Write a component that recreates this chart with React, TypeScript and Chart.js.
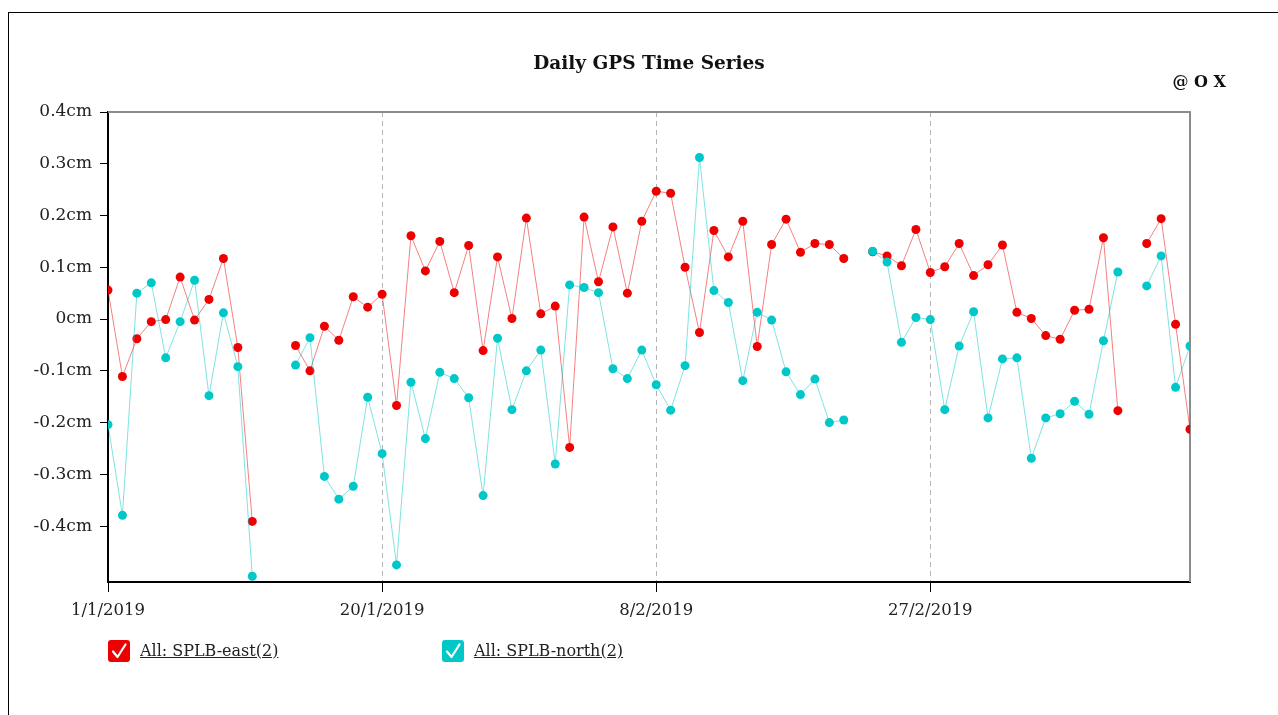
import React, { useEffect, useRef } from 'react';
import { Chart, registerables } from 'chart.js';

Chart.register(...registerables);

const TITLE = 'Daily GPS Time Series';
const CORNER_TEXT = '@ O X';
const FONT = "'DejaVu Serif', serif";

// Days since 1/1/2019 (categories)
const dayIndex: number[] = Array.from({ length: 76 }, (_, i) => i);

const eastLabel = 'All: SPLB-east(2)';
const northLabel = 'All: SPLB-north(2)';

// SPLB-east (cm), null = no observation
const eastValues: (number | null)[] = [
  0.056, -0.111, -0.038, -0.005, -0.001, 0.081, -0.002, 0.038, 0.117, -0.055,
  -0.391, null, null, -0.051, -0.100, -0.014, -0.041, 0.043, 0.023, 0.048,
  -0.167, 0.161, 0.093, 0.150, 0.051, 0.142, -0.061, 0.120, 0.001, 0.195,
  0.010, 0.025, -0.248, 0.197, 0.072, 0.178, 0.050, 0.189, 0.247, 0.243,
  0.100, -0.026, 0.171, 0.120, 0.189, -0.053, 0.144, 0.193, 0.129, 0.146,
  0.144, 0.117, null, 0.130, 0.122, 0.103, 0.173, 0.090, 0.101, 0.146,
  0.084, 0.105, 0.143, 0.013, 0.001, -0.032, -0.039, 0.017, 0.019, 0.157,
  -0.177, null, 0.146, 0.194, -0.010, -0.213,
];

// SPLB-north (cm)
const northValues: (number | null)[] = [
  -0.204, -0.379, 0.050, 0.070, -0.075, -0.005, 0.075, -0.148, 0.012, -0.092,
  -0.497, null, null, -0.089, -0.036, -0.304, -0.348, -0.323, -0.151, -0.260,
  -0.475, -0.122, -0.231, -0.103, -0.115, -0.152, -0.341, -0.037, -0.175, -0.100,
  -0.060, -0.280, 0.066, 0.061, 0.051, -0.096, -0.115, -0.060, -0.127, -0.176,
  -0.090, 0.312, 0.055, 0.032, -0.119, 0.013, -0.002, -0.102, -0.146, -0.116,
  -0.200, -0.195, null, 0.131, 0.110, -0.045, 0.003, -0.001, -0.175, -0.052,
  0.014, -0.191, -0.077, -0.075, -0.269, -0.191, -0.183, -0.159, -0.184, -0.042,
  0.091, null, 0.064, 0.122, -0.132, -0.052,
];

const xTickDays = [0, 19, 38, 57];
const xTickLabels = ['1/1/2019', '20/1/2019', '8/2/2019', '27/2/2019'];
const yTickValues = [-0.4, -0.3, -0.2, -0.1, 0, 0.1, 0.2, 0.3, 0.4];
const yTickLabels = ['-0.4cm', '-0.3cm', '-0.2cm', '-0.1cm', '0cm', '0.1cm', '0.2cm', '0.3cm', '0.4cm'];

const RED = '#ee0000';
const RED_LINE = 'rgba(238,0,0,0.5)';
const CYAN = '#00c8c8';
const CYAN_LINE = 'rgba(0,200,200,0.5)';

const framePlugin = {
  id: 'frameAndTitle',
  beforeDatasetsDraw(chart: any) {
    const { ctx, chartArea: a } = chart;
    ctx.save();
    ctx.strokeStyle = '#8c8c8c';
    ctx.lineWidth = 2;
    ctx.beginPath();
    ctx.moveTo(a.left, a.top);
    ctx.lineTo(a.right, a.top);
    ctx.lineTo(a.right, a.bottom);
    ctx.stroke();
    ctx.restore();
  },
  afterDraw(chart: any) {
    const { ctx, chartArea: a } = chart;
    ctx.save();
    ctx.fillStyle = '#111';
    ctx.textBaseline = 'middle';
    ctx.textAlign = 'center';
    ctx.font = `bold 18.5px ${FONT}`;
    ctx.fillText(TITLE, (a.left + a.right) / 2, 64);
    ctx.textAlign = 'right';
    ctx.font = `bold 16px ${FONT}`;
    ctx.fillText(CORNER_TEXT, 1226, 83);
    ctx.restore();
  },
};

export default function App() {
  const canvasRef = useRef<HTMLCanvasElement | null>(null);

  useEffect(() => {
    if (!canvasRef.current) return;
    const chart = new Chart(canvasRef.current, {
      type: 'line',
      data: {
        datasets: [
          {
            label: northLabel,
            data: dayIndex.map((d, i) => ({ x: d, y: northValues[i] })),
            borderColor: CYAN_LINE,
            backgroundColor: CYAN,
            pointBackgroundColor: CYAN,
            pointBorderWidth: 0,
            pointRadius: 4.5,
            borderWidth: 1,
            tension: 0,
            spanGaps: false,
          },
          {
            label: eastLabel,
            data: dayIndex.map((d, i) => ({ x: d, y: eastValues[i] })),
            borderColor: RED_LINE,
            backgroundColor: RED,
            pointBackgroundColor: RED,
            pointBorderWidth: 0,
            pointRadius: 4.5,
            borderWidth: 1,
            tension: 0,
            spanGaps: false,
          },
        ],
      },
      options: {
        responsive: false,
        animation: false,
        devicePixelRatio: 1,
        layout: { padding: { top: 112, right: 88, left: 0, bottom: 0 } },
        plugins: {
          legend: { display: false },
          title: { display: false },
          tooltip: { enabled: false },
        },
        scales: {
          x: {
            type: 'linear',
            min: 0,
            max: 75,
            afterFit: (s: any) => { s.height = 133; },
            afterBuildTicks: (s: any) => { s.ticks = xTickDays.map((v) => ({ value: v })); },
            ticks: {
              autoSkip: false,
              maxRotation: 0,
              padding: 9,
              color: '#222',
              font: { family: FONT, size: 16.5 },
              callback: (_v: any, i: number) => xTickLabels[i],
            },
            grid: {
              display: true,
              drawOnChartArea: true,
              drawTicks: true,
              tickLength: 10,
              color: '#b4b4b4',
              lineWidth: 1,
              tickColor: '#000',
              tickWidth: 1,
              tickBorderDash: [],
            },
            border: { display: true, color: '#000', width: 2, dash: [5, 4] },
          },
          y: {
            type: 'linear',
            min: -0.508,
            max: 0.4,
            afterFit: (s: any) => { s.width = 108; },
            afterBuildTicks: (s: any) => { s.ticks = yTickValues.map((v) => ({ value: v })); },
            ticks: {
              padding: 8,
              color: '#222',
              font: { family: FONT, size: 17 },
              callback: (_v: any, i: number) => yTickLabels[i],
            },
            grid: {
              display: true,
              drawOnChartArea: false,
              drawTicks: true,
              tickLength: 8,
              color: '#000',
              tickColor: '#000',
              tickWidth: 1,
            },
            border: { display: true, color: '#000', width: 2 },
          },
        },
      },
      plugins: [framePlugin],
    } as any);
    return () => chart.destroy();
  }, []);

  const legendText: React.CSSProperties = {
    position: 'absolute',
    top: 640,
    font: `16px ${FONT}`,
    color: '#222',
    textDecoration: 'underline',
    whiteSpace: 'nowrap',
    lineHeight: '22px',
  };
  const box = (left: number, color: string) => (
    <div
      style={{
        position: 'absolute',
        left,
        top: 640,
        width: 22,
        height: 22,
        background: color,
        borderRadius: 3,
      }}
    >
      <svg width={22} height={22} style={{ display: 'block' }}>
        <path d="M5 11.5 L9.5 17 L17.5 4.5" stroke="#fff" strokeWidth={2.2} fill="none" strokeLinecap="round" strokeLinejoin="round" />
      </svg>
    </div>
  );

  return (
    <div style={{ position: 'fixed', left: 0, top: 0, width: 1278, height: 715, overflow: 'hidden', background: '#fff' }}>
      <div
        style={{
          position: 'absolute',
          left: 8,
          top: 12,
          width: 1400,
          height: 800,
          borderLeft: '1px solid #000',
          borderTop: '1px solid #000',
        }}
      />
      <canvas ref={canvasRef} width={1278} height={715} style={{ position: 'absolute', left: 0, top: 0 }} />
      {box(108, RED)}
      <span style={{ ...legendText, left: 140 }}>{eastLabel}</span>
      {box(442, CYAN)}
      <span style={{ ...legendText, left: 474 }}>{northLabel}</span>
    </div>
  );
}
